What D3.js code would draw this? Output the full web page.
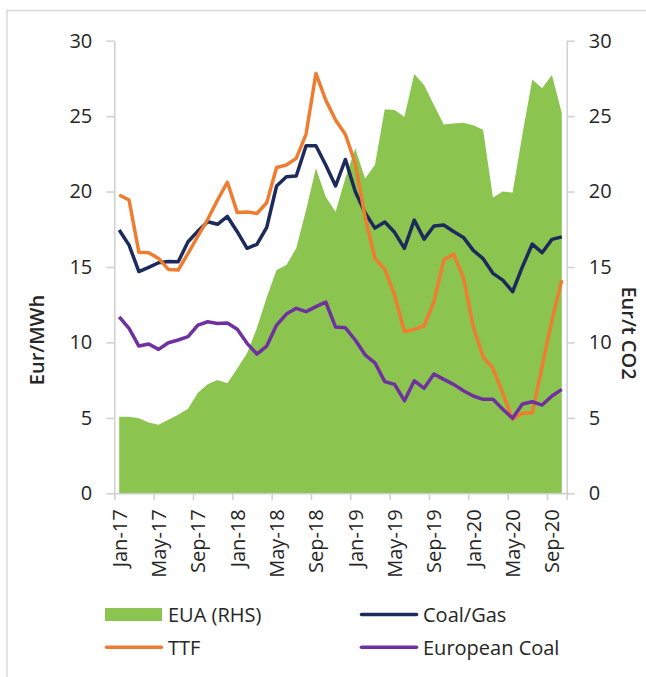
<!DOCTYPE html>
<html>
<head>
<meta charset="utf-8">
<script src="https://cdn.jsdelivr.net/npm/d3@7"></script>
<style>
  html, body { margin: 0; padding: 0; background: #fff; }
  svg { display: block; }
  text { font-family: "Open Sans", sans-serif; fill: #262626; }
</style>
</head>
<body>
<svg id="chart" width="646" height="677"></svg>
<script>
const months = ["Jan-17","Feb-17","Mar-17","Apr-17","May-17","Jun-17","Jul-17","Aug-17","Sep-17","Oct-17","Nov-17","Dec-17",
  "Jan-18","Feb-18","Mar-18","Apr-18","May-18","Jun-18","Jul-18","Aug-18","Sep-18","Oct-18","Nov-18","Dec-18",
  "Jan-19","Feb-19","Mar-19","Apr-19","May-19","Jun-19","Jul-19","Aug-19","Sep-19","Oct-19","Nov-19","Dec-19",
  "Jan-20","Feb-20","Mar-20","Apr-20","May-20","Jun-20","Jul-20","Aug-20","Sep-20","Oct-20"];
const monthLabels = ["Jan-17","May-17","Sep-17","Jan-18","May-18","Sep-18","Jan-19","May-19","Sep-19","Jan-20","May-20","Sep-20"];
const eua = [5.08,5.08,4.97,4.70,4.55,4.88,5.2,5.6,6.67,7.22,7.51,7.29,8.28,9.28,10.95,13.0,14.8,15.13,16.24,18.77,21.54,19.66,18.66,20.9,22.86,20.87,21.76,25.45,25.4,24.96,27.8,27.06,25.73,24.45,24.52,24.56,24.4,24.1,19.6,20.0,19.93,23.8,27.43,26.84,27.72,25.2];
const coalGas = [17.45,16.45,14.7,14.98,15.28,15.37,15.35,16.67,17.38,18.0,17.83,18.35,17.34,16.24,16.5,17.63,20.37,20.98,21.03,23.04,23.04,21.76,20.37,22.13,20.0,18.6,17.58,17.98,17.3,16.24,18.11,16.85,17.72,17.78,17.35,16.96,16.1,15.55,14.58,14.13,13.36,15.02,16.52,15.95,16.83,17.0];
const ttf = [19.77,19.44,15.97,15.95,15.57,14.84,14.8,15.9,17.05,18.16,19.44,20.62,18.62,18.64,18.55,19.26,21.6,21.76,22.2,23.81,27.83,26.06,24.74,23.78,21.87,18.33,15.57,14.84,13.14,10.71,10.87,11.09,12.7,15.46,15.86,14.3,11.04,9.05,8.28,6.63,4.9,5.3,5.34,8.39,11.48,14.13];
const europeanCoal = [11.7,10.93,9.76,9.9,9.54,9.98,10.16,10.38,11.15,11.37,11.26,11.29,10.87,9.94,9.23,9.76,11.15,11.88,12.26,12.04,12.37,12.68,11.02,10.97,10.16,9.18,8.65,7.4,7.22,6.14,7.46,6.96,7.91,7.55,7.22,6.8,6.45,6.23,6.23,5.57,4.97,5.92,6.07,5.85,6.45,6.89];
const yTicks = [0,5,10,15,20,25,30];

const colors = { eua: "#8bc550", coalGas: "#1c2a5c", ttf: "#ef7d31", coal: "#7031a0", axis: "#d0d0d0" };

const svg = d3.select("#chart");
const plotLeft = 114.3, plotRight = 566.7, plotTop = 40.7, plotBottom = 493.3;

// Border
svg.append("path").attr("d", `M7,677V10.5H646`).attr("fill","none").attr("stroke","#d9d9d9").attr("stroke-width",1.5);

const x = d3.scaleBand().domain(months).range([plotLeft, plotRight]).padding(0);
const xc = m => x(m) + x.bandwidth() / 2;
const xIdx = d3.scaleLinear().domain([0, months.length]).range([plotLeft, plotRight]);
const yL = d3.scaleLinear().domain([0, 30]).range([plotBottom, plotTop]);
const yR = d3.scaleLinear().domain([0, 30]).range([plotBottom, plotTop]);

// EUA area (RHS)
const area = d3.area().x((d,i) => xc(months[i])).y0(yR(0)).y1(d => yR(d));
svg.append("path").datum(eua).attr("d", area).attr("fill", colors.eua);

// Lines
const line = d3.line().x((d,i) => xc(months[i])).y(d => yL(d));
[[coalGas, colors.coalGas],[ttf, colors.ttf],[europeanCoal, colors.coal]].forEach(([data, c]) => {
  svg.append("path").datum(data).attr("d", line).attr("fill","none")
    .attr("stroke", c).attr("stroke-width", 3.5).attr("stroke-linejoin","round");
});

function styleAxis(g) {
  g.selectAll("path.domain").attr("stroke", colors.axis).attr("stroke-width", 1.5);
  g.selectAll(".tick line").attr("stroke", colors.axis).attr("stroke-width", 1.5);
  g.selectAll("text").attr("font-family", '"Open Sans", sans-serif').attr("font-size", 20).attr("fill", "#262626");
}

// Left axis
const gL = svg.append("g").attr("transform", `translate(${plotLeft},0)`)
  .call(d3.axisLeft(yL).tickValues(yTicks).tickSize(8).tickSizeOuter(0).tickPadding(14));
styleAxis(gL);
// Right axis
const gR = svg.append("g").attr("transform", `translate(${plotRight},0)`)
  .call(d3.axisRight(yR).tickValues(yTicks).tickSize(8).tickSizeOuter(0).tickPadding(14));
styleAxis(gR);

// X axis ticks at category boundaries
const tickIdx = d3.range(0, months.length + 1, 4).concat([months.length]);
const gX = svg.append("g").attr("transform", `translate(0,${plotBottom})`)
  .call(d3.axisBottom(xIdx).tickValues(tickIdx).tickSize(7).tickSizeOuter(0).tickFormat(""));
styleAxis(gX);
// X labels
const gXL = svg.append("g").attr("transform", `translate(0,${plotBottom})`)
  .call(d3.axisBottom(x).tickValues(monthLabels).tickSize(0).tickPadding(0));
gXL.select("path.domain").remove();
gXL.selectAll("text")
  .attr("font-family", '"Open Sans", sans-serif').attr("font-size", 20).attr("fill", "#262626")
  .attr("text-anchor", "end").attr("dy", null)
  .attr("transform", "translate(0,16) rotate(-90)")
  .attr("x", 0).attr("y", 0).attr("dominant-baseline", "central");

// Axis titles
svg.append("text").attr("transform", "translate(44,340) rotate(-90)")
  .attr("text-anchor","middle").attr("font-size", 20).attr("font-weight", 600).text("Eur/MWh");
svg.append("text").attr("transform", "translate(622,333) rotate(90)")
  .attr("text-anchor","middle").attr("font-size", 20).attr("font-weight", 600).text("Eur/t CO2");

// Legend
const legend = [
  {name: "EUA (RHS)", color: colors.eua, type: "area", x: 105, y: 614.5},
  {name: "Coal/Gas", color: colors.coalGas, type: "line", x: 360, y: 614.5},
  {name: "TTF", color: colors.ttf, type: "line", x: 105, y: 647.3},
  {name: "European Coal", color: colors.coal, type: "line", x: 360, y: 647.3}
];
legend.forEach(l => {
  const g = svg.append("g");
  if (l.type === "area") {
    g.append("rect").attr("x", l.x).attr("y", l.y - 6.5).attr("width", 57).attr("height", 13).attr("fill", l.color);
  } else {
    g.append("line").attr("x1", l.x + 1.5).attr("x2", l.x + 56.5).attr("y1", l.y).attr("y2", l.y)
      .attr("stroke", l.color).attr("stroke-width", 3.5).attr("stroke-linecap", "round");
  }
  g.append("text").attr("x", l.x + 63).attr("y", l.y + 7.3).attr("font-size", 20).text(l.name);
});
</script>
</body>
</html>
